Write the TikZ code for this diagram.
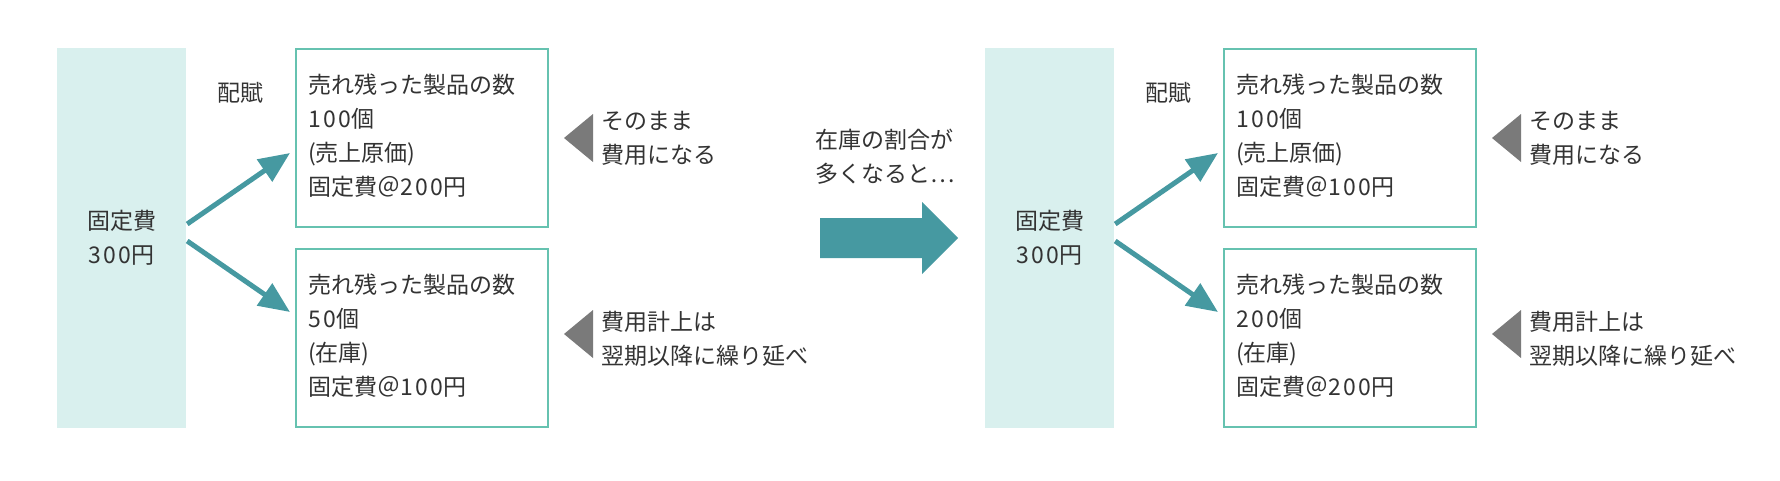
\documentclass[tikz,border=0pt]{standalone}
\usepackage{fontspec}
\setmainfont{Noto Sans CJK JP}
\usetikzlibrary{arrows.meta,positioning}
\definecolor{fixfill}{HTML}{D9F0EE}
\definecolor{boxline}{HTML}{66C2B0}
\definecolor{flowteal}{HTML}{4699A1}
\definecolor{pointgray}{HTML}{7A7A7A}
\definecolor{ink}{HTML}{333333}
\newcommand\nums[1]{{\addfontfeature{LetterSpace=10}#1}}
\tikzset{
  every node/.style={text=ink, font=\fontsize{23}{34}\selectfont},
  fixbox/.style={fill=fixfill, minimum width=129pt, minimum height=380pt, inner sep=0pt, align=center},
  itembox/.style={draw=boxline, line width=2pt, minimum width=252pt, minimum height=178pt, inner sep=0pt},
  body/.style={align=left, anchor=north west, inner sep=0pt},
  note/.style={align=left, anchor=west, inner sep=0pt},
  flow/.style={draw=flowteal, line width=5pt, -{Triangle[length=31pt,width=26pt]}},
  pointer/.style={fill=pointgray}
}
\begin{document}
\begin{tikzpicture}[x=1pt,y=-1pt]
  \useasboundingbox (0,0) rectangle (1780,480);
  \node[fixbox] (fa) at (121.5,238) {固定費\\\nums{300}円};
  \node (la) at (240,93) {配賦};
  \node[itembox] (a1) at (422,138) {};
  \node[itembox, below=20pt of a1] (a2) {};
  \node[body] (ta1) at ([shift={(13,26)}]a1.north west) {売れ残った製品の数\\\nums{100}個\\(売上原価)\\固定費＠\nums{200}円};
  \node[body] (ta2) at ([shift={(13,26)}]a2.north west) {売れ残った製品の数\\\nums{50}個\\(在庫)\\固定費＠\nums{100}円};
  \draw[flow] ([shift={(1,-14)}]fa.east) -- ([shift={(-5,15)}]a1.west);
  \draw[flow] ([shift={(1,3)}]fa.east) -- ([shift={(-5,-26)}]a2.west);
  \fill[pointer] (564,138) -- (593,114) -- (593,162) -- cycle;
  \fill[pointer] (564,334) -- (593,310) -- (593,358) -- cycle;
  \node[note] (na1) at (601,138.5) {そのまま\\費用になる};
  \node[note] (na2) at (601,338.5) {費用計上は\\翌期以降に繰り延べ};

  \node[note] (q) at (815,156.5) {在庫の割合が\\多くなると⋯};
  \fill[flowteal] (820,218) -- (922,218) -- (922,202) -- (958,238) -- (922,274) -- (922,258) -- (820,258) -- cycle;

  \node[fixbox] (fb) at (1049.5,238) {固定費\\\nums{300}円};
  \node (lb) at (1168,93) {配賦};
  \node[itembox] (b1) at (1350,138) {};
  \node[itembox, below=20pt of b1] (b2) {};
  \node[body] (tb1) at ([shift={(13,26)}]b1.north west) {売れ残った製品の数\\\nums{100}個\\(売上原価)\\固定費＠\nums{100}円};
  \node[body] (tb2) at ([shift={(13,26)}]b2.north west) {売れ残った製品の数\\\nums{200}個\\(在庫)\\固定費＠\nums{200}円};
  \draw[flow] ([shift={(1,-14)}]fb.east) -- ([shift={(-5,15)}]b1.west);
  \draw[flow] ([shift={(1,3)}]fb.east) -- ([shift={(-5,-26)}]b2.west);
  \fill[pointer] (1492,138) -- (1521,114) -- (1521,162) -- cycle;
  \fill[pointer] (1492,334) -- (1521,310) -- (1521,358) -- cycle;
  \node[note] (nb1) at (1529,138.5) {そのまま\\費用になる};
  \node[note] (nb2) at (1529,338.5) {費用計上は\\翌期以降に繰り延べ};
\end{tikzpicture}
\end{document}
